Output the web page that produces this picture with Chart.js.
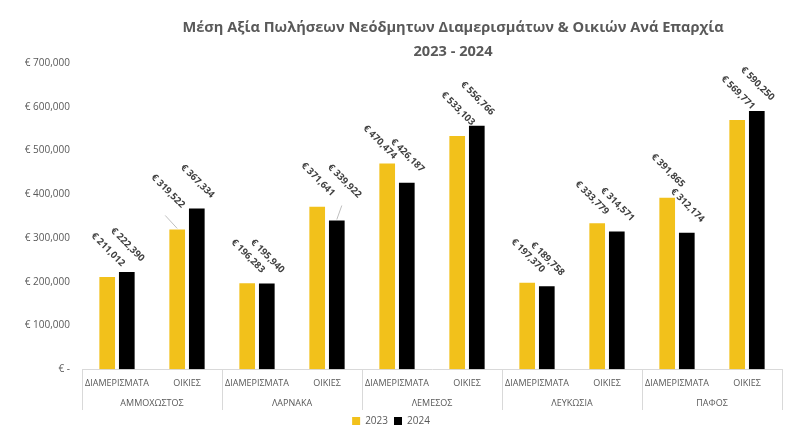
<!DOCTYPE html>
<html>
<head>
<meta charset="utf-8">
<script src="https://cdn.jsdelivr.net/npm/chart.js@4.4.1/dist/chart.umd.min.js"></script>
<style>
  html, body { margin: 0; padding: 0; background: #fff; }
  #wrap { width: 800px; height: 436px; }
</style>
</head>
<body>
<div id="wrap"><canvas id="chart"></canvas></div>
<script>
// Δεδομένα
const categories = ['ΔΙΑΜΕΡΙΣΜΑΤΑ', 'ΟΙΚΙΕΣ', 'ΔΙΑΜΕΡΙΣΜΑΤΑ', 'ΟΙΚΙΕΣ', 'ΔΙΑΜΕΡΙΣΜΑΤΑ', 'ΟΙΚΙΕΣ',
                    'ΔΙΑΜΕΡΙΣΜΑΤΑ', 'ΟΙΚΙΕΣ', 'ΔΙΑΜΕΡΙΣΜΑΤΑ', 'ΟΙΚΙΕΣ'];
const districts = ['ΑΜΜΟΧΩΣΤΟΣ', 'ΛΑΡΝΑΚΑ', 'ΛΕΜΕΣΟΣ', 'ΛΕΥΚΩΣΙΑ', 'ΠΑΦΟΣ'];
const values2023 = [211012, 319522, 196283, 371641, 470474, 533103, 197370, 333779, 391865, 569771];
const values2024 = [222390, 367334, 195940, 339922, 426187, 556766, 189758, 314571, 312174, 590250];
const yTicks = [0, 100000, 200000, 300000, 400000, 500000, 600000, 700000];
const titleLines = ['Μέση Αξία Πωλήσεων Νεόδμητων Διαμερισμάτων & Οικιών Ανά Επαρχία', '2023 - 2024'];

const FONT = '"Open Sans", "Noto Sans", sans-serif';
const GREY = '#595959';
const LINE = '#d9d9d9';

const fmtEuro = v => v === 0 ? '€ -' : '€ ' + v.toLocaleString('en-US');

// μετατοπίσεις ετικετών που δεν είναι στη βασική θέση (dataset-index)
const labelShift = {
    '0-1': { off: [6, -23], leader: true },
    '1-3': { off: [23, -24], leader: true },
    '0-4': { off: [8, -6] },
    '0-7': { off: [10, -10] }
};

// Τίτλος
const titlePlugin = {
    id: 'titleText',
    afterDraw(chart) {
        const ctx = chart.ctx;
        ctx.save();
        ctx.fillStyle = GREY;
        ctx.font = 'bold 14.6px ' + FONT;
        ctx.textAlign = 'center';
        ctx.textBaseline = 'middle';
        const cx = chart.chartArea.left + chart.chartArea.width * 0.53;
        ctx.fillText(titleLines[0], cx, 28);
        ctx.fillText(titleLines[1], cx, 52);
        ctx.restore();
    }
};

// Ετικέτες τιμών πάνω από τις μπάρες (περιστραμμένες)
const valueLabels = {
    id: 'valueLabels',
    afterDatasetsDraw(chart) {
        const ctx = chart.ctx;
        ctx.save();
        ctx.fillStyle = '#404040';
        ctx.font = 'bold 9.5px ' + FONT;
        ctx.textAlign = 'right';
        ctx.textBaseline = 'middle';
        chart.data.datasets.forEach((ds, di) => {
            const meta = chart.getDatasetMeta(di);
            meta.data.forEach((bar, i) => {
                const s = labelShift[di + '-' + i];
                const off = s ? s.off : [16, -12];
                if (s && s.leader) {
                    // γραμμή οδηγός από την κορυφή της μπάρας
                    ctx.save();
                    ctx.strokeStyle = '#bfbfbf';
                    ctx.lineWidth = 1;
                    ctx.beginPath();
                    ctx.moveTo(bar.x, bar.y - 1);
                    ctx.lineTo(bar.x + off[0] - 18, bar.y + off[1] + 9);
                    ctx.stroke();
                    ctx.restore();
                }
                ctx.save();
                ctx.translate(bar.x + off[0], bar.y + off[1]);
                ctx.rotate(Math.PI / 4);
                ctx.fillText(fmtEuro(ds.data[i]), 0, 0);
                ctx.restore();
            });
        });
        ctx.restore();
    }
};

// Δεύτερο επίπεδο άξονα x: επαρχίες και διαχωριστικά
const groupAxis = {
    id: 'groupAxis',
    afterDraw(chart) {
        const x = chart.scales.x;
        const ctx = chart.ctx;
        const step = x.getPixelForValue(1) - x.getPixelForValue(0);
        const top = chart.chartArea.bottom;
        const bottom = x.bottom;
        ctx.save();
        ctx.strokeStyle = LINE;
        ctx.lineWidth = 1;
        ctx.fillStyle = GREY;
        ctx.font = '9px ' + FONT;
        ctx.textAlign = 'center';
        ctx.textBaseline = 'middle';
        districts.forEach((d, g) => {
            const left = x.getPixelForValue(g * 2) - step / 2;
            ctx.beginPath();
            ctx.moveTo(Math.round(left) + 0.5, top);
            ctx.lineTo(Math.round(left) + 0.5, bottom);
            ctx.stroke();
            const cx = (x.getPixelForValue(g * 2) + x.getPixelForValue(g * 2 + 1)) / 2;
            ctx.fillText(d, cx, bottom - 7);
        });
        const right = x.getPixelForValue(categories.length - 1) + step / 2;
        ctx.beginPath();
        ctx.moveTo(Math.round(right) + 0.5, top);
        ctx.lineTo(Math.round(right) + 0.5, bottom);
        ctx.stroke();
        ctx.restore();
    }
};

new Chart(document.getElementById('chart'), {
    type: 'bar',
    data: {
        labels: categories,
        datasets: [
            { label: '2023', data: values2023, backgroundColor: '#F2C11B' },
            { label: '2024', data: values2024, backgroundColor: '#000000' }
        ]
    },
    options: {
        responsive: true,
        maintainAspectRatio: false,
        animation: false,
        categoryPercentage: 0.56,
        barPercentage: 0.8,
        layout: { padding: { top: 63, right: 18, left: 0, bottom: 0 } },
        plugins: {
            legend: {
                position: 'bottom',
                labels: {
                    boxWidth: 8, boxHeight: 8, padding: 6,
                    color: GREY, font: { family: FONT, size: 10 }
                }
            },
            title: { display: false },
            tooltip: { enabled: false }
        },
        scales: {
            x: {
                grid: { display: false, tickLength: 5 },
                border: { display: true, color: LINE },
                ticks: { color: GREY, font: { family: FONT, size: 9 }, padding: 4, maxRotation: 0 },
                afterFit(scale) { scale.height += 17; }
            },
            y: {
                min: 0,
                max: 700000,
                afterBuildTicks(scale) { scale.ticks = yTicks.map(v => ({ value: v })); },
                grid: { display: false },
                border: { display: false },
                ticks: {
                    color: GREY, font: { family: FONT, size: 10 }, padding: 4,
                    callback: v => fmtEuro(v)
                },
                afterFit(scale) { scale.width = 82; }
            }
        }
    },
    plugins: [titlePlugin, valueLabels, groupAxis]
});
</script>
</body>
</html>
